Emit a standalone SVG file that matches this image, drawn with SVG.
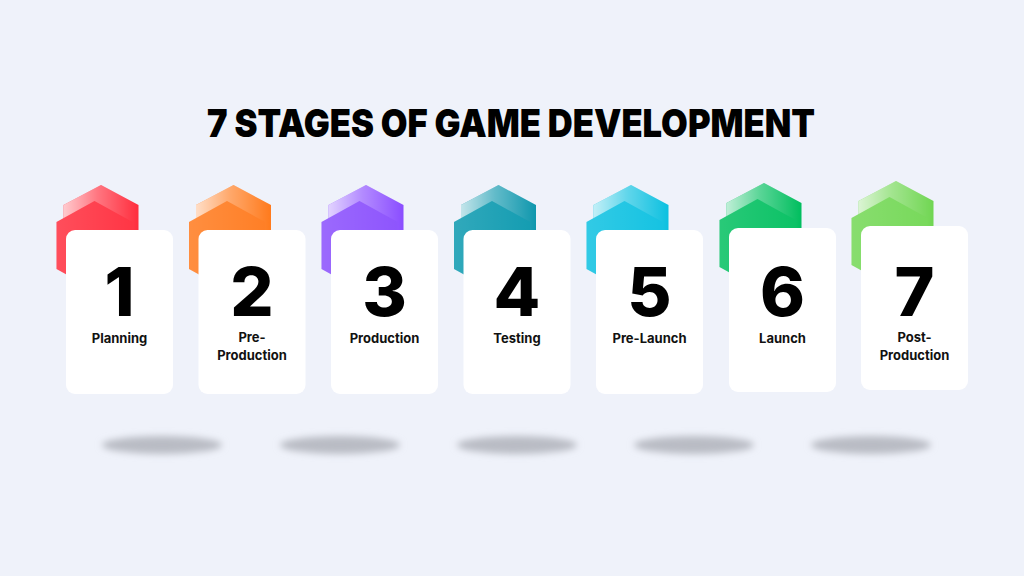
<svg xmlns="http://www.w3.org/2000/svg" width="1024" height="576" viewBox="0 0 1024 576">
<defs>
<linearGradient id="fadeBack" x1="0" y1="0" x2="1" y2="0">
<stop offset="0" stop-color="#ffffff" stop-opacity="0.75"/>
<stop offset="0.45" stop-color="#ffffff" stop-opacity="0.35"/>
<stop offset="1" stop-color="#ffffff" stop-opacity="0"/>
</linearGradient>
<linearGradient id="fadeFront" x1="0" y1="0" x2="1" y2="0">
<stop offset="0" stop-color="#ffffff" stop-opacity="0.12"/>
<stop offset="1" stop-color="#ffffff" stop-opacity="0"/>
</linearGradient>
<path id="hexBack" d="M35,-45 L72.5,-25 L72.5,22 L35,43 L-2.5,22 L-2.5,-25 Z"/>
<path id="hexFront" d="M28.5,-29 L66.5,-8 L66.5,39 L28.5,60 L-9.5,39 L-9.5,-8 Z"/>
<filter id="blur" x="-30%" y="-100%" width="160%" height="300%">
<feGaussianBlur stdDeviation="3.5"/>
</filter>
</defs>
<style>
.card{fill:#ffffff}
.num{font-family:Inter,"Liberation Sans",sans-serif;font-weight:800;font-size:68px;fill:#000000;text-anchor:middle}
.lbl{font-family:Inter,"Liberation Sans",sans-serif;font-weight:700;font-size:13px;fill:#111111;text-anchor:middle}
.title{font-family:Inter,"Liberation Sans",sans-serif;font-weight:900;font-size:39px;fill:#000000;text-anchor:middle}
.shadow{fill:#b9bcc4;filter:url(#blur)}
</style>
<rect width="1024" height="576" fill="#eff2fa"/>
<text class="title" x="511" y="137" textLength="608" lengthAdjust="spacingAndGlyphs">7 STAGES OF GAME DEVELOPMENT</text>
<g id="shadows">
<ellipse class="shadow" cx="162" cy="445" rx="60" ry="9"/>
<ellipse class="shadow" cx="340" cy="445" rx="60" ry="9"/>
<ellipse class="shadow" cx="517" cy="445" rx="60" ry="9"/>
<ellipse class="shadow" cx="694" cy="445" rx="60" ry="9"/>
<ellipse class="shadow" cx="871" cy="445" rx="60" ry="9"/>
</g>
<g id="stage-1" transform="translate(66,230)">
<use href="#hexBack" fill="#ff2d3d"/><use href="#hexBack" fill="url(#fadeBack)"/>
<use href="#hexFront" fill="#ff3645"/><use href="#hexFront" fill="url(#fadeFront)"/>
<rect class="card" x="0" y="0" width="107" height="164" rx="9"/>
<text class="num" x="53.5" y="86">1</text>
<text class="lbl" x="53.5" y="113">Planning</text>
</g>
<g id="stage-2" transform="translate(198.5,230)">
<use href="#hexBack" fill="#ff7a1c"/><use href="#hexBack" fill="url(#fadeBack)"/>
<use href="#hexFront" fill="#ff7f26"/><use href="#hexFront" fill="url(#fadeFront)"/>
<rect class="card" x="0" y="0" width="107" height="164" rx="9"/>
<text class="num" x="53.5" y="86">2</text>
<text class="lbl" x="53.5" y="112"><tspan x="53.5" y="111.5">Pre-</tspan><tspan x="53.5" y="130">Production</tspan></text>
</g>
<g id="stage-3" transform="translate(331,230)">
<use href="#hexBack" fill="#8a4dff"/><use href="#hexBack" fill="url(#fadeBack)"/>
<use href="#hexFront" fill="#8e55fd"/><use href="#hexFront" fill="url(#fadeFront)"/>
<rect class="card" x="0" y="0" width="107" height="164" rx="9"/>
<text class="num" x="53.5" y="86">3</text>
<text class="lbl" x="53.5" y="113">Production</text>
</g>
<g id="stage-4" transform="translate(463.5,230)">
<use href="#hexBack" fill="#0f97ad"/><use href="#hexBack" fill="url(#fadeBack)"/>
<use href="#hexFront" fill="#159db2"/><use href="#hexFront" fill="url(#fadeFront)"/>
<rect class="card" x="0" y="0" width="107" height="164" rx="9"/>
<text class="num" x="53.5" y="86">4</text>
<text class="lbl" x="53.5" y="113">Testing</text>
</g>
<g id="stage-5" transform="translate(596,230)">
<use href="#hexBack" fill="#0cc0e0"/><use href="#hexBack" fill="url(#fadeBack)"/>
<use href="#hexFront" fill="#16c3e2"/><use href="#hexFront" fill="url(#fadeFront)"/>
<rect class="card" x="0" y="0" width="107" height="164" rx="9"/>
<text class="num" x="53.5" y="86">5</text>
<text class="lbl" x="53.5" y="113">Pre-Launch</text>
</g>
<g id="stage-6" transform="translate(729,228)">
<use href="#hexBack" fill="#00be5e"/><use href="#hexBack" fill="url(#fadeBack)"/>
<use href="#hexFront" fill="#0cc266"/><use href="#hexFront" fill="url(#fadeFront)"/>
<rect class="card" x="0" y="0" width="107" height="164" rx="9"/>
<text class="num" x="53.5" y="88">6</text>
<text class="lbl" x="53.5" y="115">Launch</text>
</g>
<g id="stage-7" transform="translate(861,226)">
<use href="#hexBack" fill="#70d652"/><use href="#hexBack" fill="url(#fadeBack)"/>
<use href="#hexFront" fill="#78d95b"/><use href="#hexFront" fill="url(#fadeFront)"/>
<rect class="card" x="0" y="0" width="107" height="164" rx="9"/>
<text class="num" x="53.5" y="90">7</text>
<text class="lbl" x="53.5" y="116"><tspan x="53.5" y="115.5">Post-</tspan><tspan x="53.5" y="134">Production</tspan></text>
</g>
</svg>
